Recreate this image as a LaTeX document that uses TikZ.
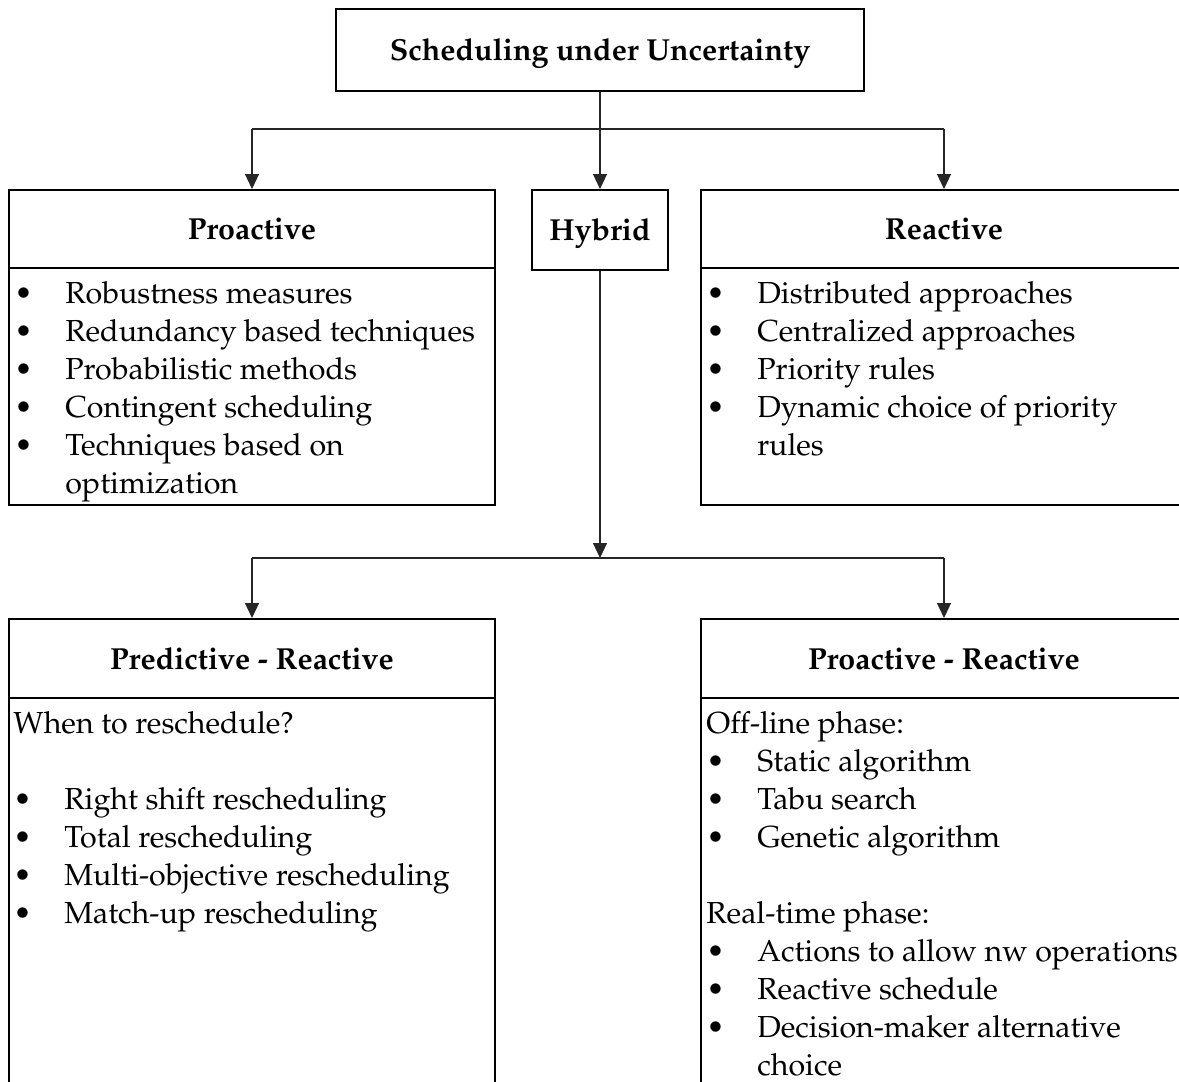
\documentclass[tikz,border=0pt]{standalone}
\usepackage[T1]{fontenc}
\renewcommand{\rmdefault}{ppl}
\usetikzlibrary{arrows.meta}
% bullet with a fixed hanging indent, and the matching indent for wrapped lines
\newcommand{\bul}{\makebox[25.5pt][l]{\textbullet}}
\newcommand{\cnt}{\hspace*{25.5pt}}

\begin{document}
\begin{tikzpicture}[x=0.5pt,y=-0.5pt,
  box/.style={draw, line width=1pt, inner sep=0pt},
  hdr/.style={box, text height=10.5pt, text depth=0pt, font=\fontsize{15.2}{19}\selectfont\bfseries},
  conn/.style={line width=0.6pt, black!85},
  arr/.style={conn, -{Triangle[length=7.5pt,width=7pt]}},
  txt/.style={anchor=base west, inner sep=0pt, font=\fontsize{15.2}{19}\selectfont}]

\useasboundingbox (0,0) rectangle (1179,1082);
\clip (0,0) rectangle (1179,1082);

% root
\node[hdr, minimum width=264pt, minimum height=41pt] (top) at (600,50) {Scheduling under Uncertainty};

% first level
\node[hdr, minimum width=243pt, minimum height=39pt] (proh) at (252,229) {Proactive};
\node[box, minimum width=243pt, minimum height=118.5pt] (prob) at (252,386.5) {};
\node[hdr, minimum width=68pt, minimum height=40pt] (hyb) at (600,230) {Hybrid};
\node[hdr, minimum width=243pt, minimum height=39pt] (reah) at (944,229) {Reactive};
\node[box, minimum width=243pt, minimum height=118.5pt] (reab) at (944,386.5) {};

\node[txt] (protxt) at (14,303) {\parbox[t]{300pt}{%
  \bul Robustness measures\\
  \bul Redundancy based techniques\\
  \bul Probabilistic methods\\
  \bul Contingent scheduling\\
  \bul Techniques based on\\
  \cnt optimization}};

\node[txt] (reatxt) at (706,303) {\parbox[t]{300pt}{%
  \bul Distributed approaches\\
  \bul Centralized approaches\\
  \bul Priority rules\\
  \bul Dynamic choice of priority\\
  \cnt rules}};

% second level
\node[hdr, minimum width=243pt, minimum height=39.5pt] (predh) at (252,658.5) {Predictive - Reactive};
\node[box, minimum width=243pt, minimum height=201pt] (predb) at (252,899) {};
\node[hdr, minimum width=243pt, minimum height=39.5pt] (pacth) at (944,658.5) {Proactive - Reactive};
\node[box, minimum width=243pt, minimum height=201pt] (pactb) at (944,899) {};

\node[txt] (predtxt) at (13,733) {\parbox[t]{300pt}{%
  When to reschedule?\\[19pt]
  \bul Right shift rescheduling\\
  \bul Total rescheduling\\
  \bul Multi-objective rescheduling\\
  \bul Match-up rescheduling}};

\node[txt] (pacttxt) at (706,733) {\parbox[t]{300pt}{%
  Off-line phase:\\
  \bul Static algorithm\\
  \bul Tabu search\\
  \bul Genetic algorithm\\[19pt]
  Real-time phase:\\
  \bul Actions to allow nw operations\\
  \bul Reactive schedule\\
  \bul Decision-maker alternative\\
  \cnt choice}};

% connectors from the root
\coordinate (s1) at (600,129);
\draw[arr] (top.south) -- (hyb.north);
\draw[conn] (proh.north |- s1) -- (reah.north |- s1);
\draw[arr] (proh.north |- s1) -- (proh.north);
\draw[arr] (reah.north |- s1) -- (reah.north);

% connectors from the hybrid branch
\coordinate (s2) at (600,558);
\draw[arr] (hyb.south) -- (s2);
\draw[conn] (predh.north |- s2) -- (pacth.north |- s2);
\draw[arr] (predh.north |- s2) -- (predh.north);
\draw[arr] (pacth.north |- s2) -- (pacth.north);

\end{tikzpicture}
\end{document}
